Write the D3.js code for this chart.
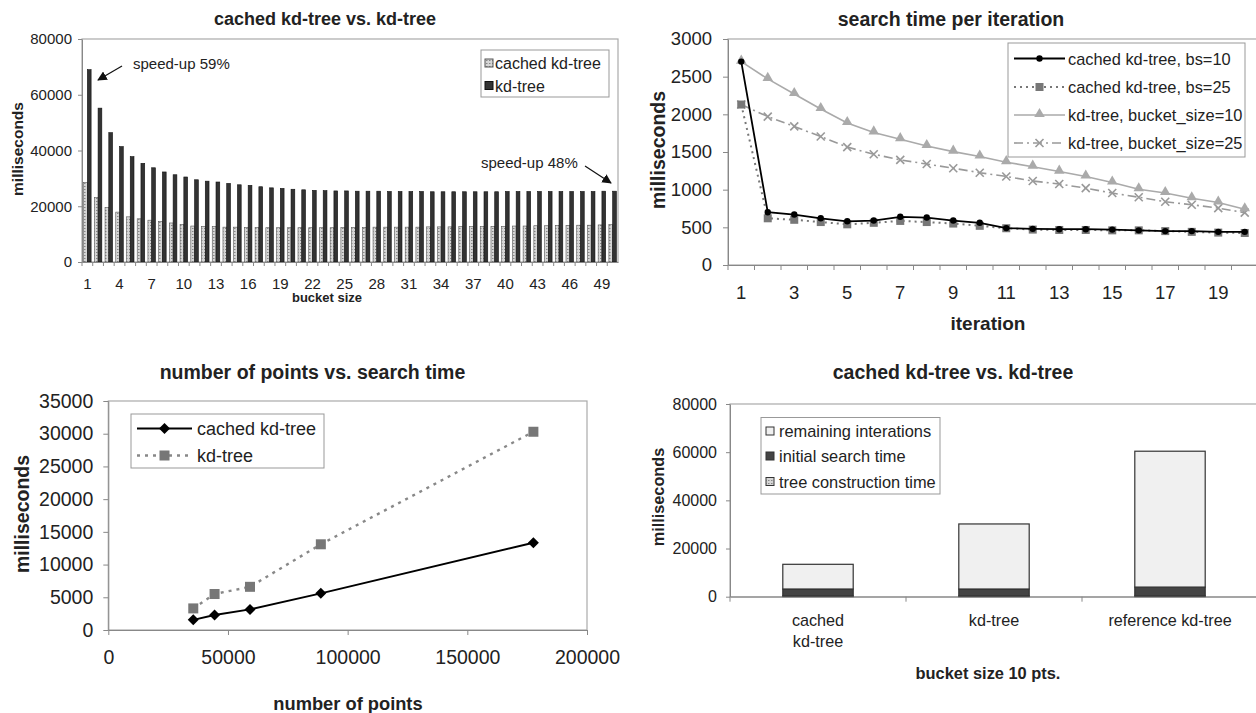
<!DOCTYPE html>
<html>
<head>
<meta charset="utf-8">
<script src="https://cdn.jsdelivr.net/npm/d3@7"></script>
<style>
  body { margin: 0; background: #fff; }
  svg text { font-family: "Liberation Sans", Arial, sans-serif; fill: #222; }
  .axis path, .axis line { stroke: #888; }
  .bold { font-weight: bold; }
</style>
</head>
<body>
<svg id="chart" width="1256" height="713"></svg>
<script>
// ---- data: cached kd-tree vs kd-tree, per bucket size
var bucketSizes = d3.range(1, 51);
var cachedTime = [28500, 23100, 19500, 17900, 16200, 15500, 15000, 14600, 14000, 13500,
                  12900, 12800, 12700, 12500, 12500, 12400, 12400, 12300, 12300, 12300,
                  12300, 12300, 12300, 12300, 12400, 12400, 12400, 12500, 12500, 12500,
                  12500, 12500, 12600, 12600, 12600, 12700, 12700, 12700, 12800, 12800,
                  12900, 12900, 13000, 13000, 13100, 13100, 13200, 13200, 13300, 13400];
var kdTime = [69000, 55200, 46400, 41400, 37800, 35400, 33800, 32300, 31300, 30500,
              29500, 29000, 28700, 28200, 27700, 27500, 27000, 26600, 26400, 26100,
              25900, 25700, 25600, 25500, 25500, 25400, 25400, 25400, 25300, 25300,
              25300, 25300, 25200, 25200, 25200, 25200, 25200, 25200, 25200, 25300,
              25300, 25300, 25300, 25300, 25300, 25300, 25300, 25300, 25400, 25400];

// ---- data: search time per iteration
var iterations = d3.range(1, 21);
var cachedBs10 = [2700, 700, 670, 620, 580, 590, 640, 630, 590, 560, 490, 480, 475, 475, 470, 460, 450, 450, 440, 440];
var cachedBs25 = [2130, 620, 600, 570, 540, 560, 585, 570, 550, 520, 488, 470, 465, 465, 460, 460, 450, 440, 430, 425];
var kdBs10 = [2700, 2470, 2270, 2070, 1885, 1760, 1670, 1580, 1505, 1440, 1365, 1305, 1240, 1175, 1095, 1005, 955, 885, 830, 740];
var kdBs25 = [2130, 1970, 1840, 1705, 1565, 1470, 1395, 1340, 1285, 1225, 1175, 1115, 1075, 1020, 955, 900, 840, 800, 755, 695];

// ---- data: number of points vs search time
var numPoints = [35500, 44400, 59200, 88800, 177600];
var cachedSearch = [1550, 2300, 3150, 5600, 13350];
var kdSearch = [3300, 5500, 6600, 13100, 30300];

// ---- data: stacked totals, bucket size 10
var treeNames = ["cached kd-tree", "kd-tree", "reference kd-tree"];
var treeConstruction = [300, 300, 300];
var initialSearch = [2900, 2900, 3700];
var remainingIterations = [10250, 27000, 56400];

var svg = d3.select("#chart");
var defs = svg.append("defs");
var plain = d3.format("d");

var pat = defs.append("pattern").attr("id", "dots")
  .attr("width", 3).attr("height", 3).attr("patternUnits", "userSpaceOnUse");
pat.append("rect").attr("width", 3).attr("height", 3).attr("fill", "#d6d6d6");
pat.append("rect").attr("width", 1.5).attr("height", 1).attr("fill", "#888");

defs.append("marker").attr("id", "arrow").attr("viewBox", "0 0 10 10")
  .attr("refX", 9).attr("refY", 5).attr("markerWidth", 8).attr("markerHeight", 8)
  .attr("orient", "auto")
  .append("path").attr("d", "M0,0L10,5L0,10z").attr("fill", "#111");

function title(x, y, txt, size, rotate) {
  var t = svg.append("text").attr("class", "bold").attr("text-anchor", "middle")
    .attr("dominant-baseline", "central").style("font-size", size + "px").text(txt);
  if (rotate) t.attr("transform", "translate(" + x + "," + y + ") rotate(-90)");
  else t.attr("x", x).attr("y", y);
}

function frame(g, b) {
  g.append("rect").attr("x", b.left).attr("y", b.top)
    .attr("width", b.right - b.left).attr("height", b.bottom - b.top)
    .attr("fill", "none").attr("stroke", "#aaa").attr("stroke-width", 1.2);
}

function marker(g, type, x, y) {
  if (type === "circle") {
    g.append("path").attr("d", d3.symbol(d3.symbolCircle, 32)())
      .attr("transform", "translate(" + x + "," + y + ")").attr("fill", "#000");
  } else if (type === "diamond") {
    g.append("path").attr("d", "M0,-5.5L5.5,0L0,5.5L-5.5,0Z")
      .attr("transform", "translate(" + x + "," + y + ")").attr("fill", "#000");
  } else if (type === "square") {
    g.append("rect").attr("x", x - 4).attr("y", y - 4).attr("width", 8).attr("height", 8).attr("fill", "#777");
  } else if (type === "bigsquare") {
    g.append("rect").attr("x", x - 5).attr("y", y - 5).attr("width", 10).attr("height", 10).attr("fill", "#777");
  } else if (type === "triangle") {
    g.append("path").attr("d", d3.symbol(d3.symbolTriangle, 48)())
      .attr("transform", "translate(" + x + "," + (y - 1) + ")").attr("fill", "#aaa");
  } else if (type === "x") {
    g.append("path").attr("d", "M-4,-4L4,4M-4,4L4,-4")
      .attr("transform", "translate(" + x + "," + y + ")")
      .attr("stroke", "#999").attr("stroke-width", 1.6).attr("fill", "none");
  }
}

// =============== top left: bars per bucket size
var tl = { left: 82, right: 618, top: 39, bottom: 262 };
var xTL = d3.scaleBand().domain(bucketSizes).range([tl.left, tl.right]).paddingInner(0.3).paddingOuter(0.15);
var xTLsub = d3.scaleBand().domain(["cached", "kd"]).range([0, xTL.bandwidth()]);
var yTL = d3.scaleLinear().domain([0, 80000]).range([tl.bottom, tl.top]);
var gTL = svg.append("g");
frame(gTL, tl);

gTL.selectAll(".cachedBar").data(bucketSizes).enter().append("rect")
  .attr("x", function(d) { return xTL(d) + xTLsub("cached"); })
  .attr("y", function(d, i) { return yTL(cachedTime[i]); })
  .attr("width", xTLsub.bandwidth())
  .attr("height", function(d, i) { return yTL(0) - yTL(cachedTime[i]); })
  .attr("fill", "url(#dots)").attr("stroke", "#555").attr("stroke-width", 0.6);

gTL.selectAll(".kdBar").data(bucketSizes).enter().append("rect")
  .attr("x", function(d) { return xTL(d) + xTLsub("kd"); })
  .attr("y", function(d, i) { return yTL(kdTime[i]); })
  .attr("width", xTLsub.bandwidth())
  .attr("height", function(d, i) { return yTL(0) - yTL(kdTime[i]); })
  .attr("fill", "#333").attr("stroke", "#111").attr("stroke-width", 0.6);

gTL.append("g").attr("class", "axis").attr("transform", "translate(" + tl.left + ",0)")
  .call(d3.axisLeft(yTL).tickValues([0, 20000, 40000, 60000, 80000]).tickFormat(plain)
    .tickSize(4).tickPadding(6).tickSizeOuter(0))
  .style("font-size", "15px");

gTL.append("g").attr("class", "axis").attr("transform", "translate(0," + tl.bottom + ")")
  .call(d3.axisBottom(xTL).tickValues(bucketSizes.filter(function(d, i) { return i % 3 === 0; }))
    .tickSize(0).tickPadding(16).tickSizeOuter(0))
  .style("font-size", "15px");

var offTL = (xTL.step() - xTL.bandwidth()) / 2;
gTL.selectAll(".btick").data(bucketSizes).enter().append("line")
  .attr("x1", function(d) { return xTL(d) - offTL; }).attr("x2", function(d) { return xTL(d) - offTL; })
  .attr("y1", tl.bottom).attr("y2", tl.bottom + 4).attr("stroke", "#888");

// legend
gTL.append("rect").attr("x", 481).attr("y", 50).attr("width", 128).attr("height", 47)
  .attr("fill", "#fff").attr("stroke", "#999");
[["cached kd-tree", "url(#dots)", "#555", 63.5], ["kd-tree", "#333", "#111", 86]].forEach(function(it) {
  gTL.append("rect").attr("x", 485).attr("y", it[3] - 4.5).attr("width", 8).attr("height", 8)
    .attr("fill", it[1]).attr("stroke", it[2]);
  gTL.append("text").attr("x", 495).attr("y", it[3]).attr("dominant-baseline", "central")
    .style("font-size", "16px").text(it[0]);
});

// annotations
gTL.append("text").attr("x", 133).attr("y", 63.5).attr("dominant-baseline", "central")
  .style("font-size", "15px").text("speed-up 59%");
gTL.append("line").attr("x1", 122).attr("y1", 66).attr("x2", 98).attr("y2", 80)
  .attr("stroke", "#111").attr("stroke-width", 1.2).attr("marker-end", "url(#arrow)");
gTL.append("text").attr("x", 481).attr("y", 162.5).attr("dominant-baseline", "central")
  .style("font-size", "15px").text("speed-up 48%");
gTL.append("line").attr("x1", 585).attr("y1", 166).attr("x2", 611).attr("y2", 183)
  .attr("stroke", "#111").attr("stroke-width", 1.2).attr("marker-end", "url(#arrow)");

title(325, 18.5, "cached kd-tree vs. kd-tree", 18);
title(17, 149, "milliseconds", 15.5, true);
title(327, 297, "bucket size", 13);

// =============== top right: search time per iteration
var tr = { left: 728, right: 1258, top: 39, bottom: 265 };
var xTR = d3.scaleBand().domain(iterations).range([tr.left, tr.right]);
var yTR = d3.scaleLinear().domain([0, 3000]).range([tr.bottom, tr.top]);
var gTR = svg.append("g");
frame(gTR, tr);

gTR.append("g").attr("class", "axis").attr("transform", "translate(" + tr.left + ",0)")
  .call(d3.axisLeft(yTR).tickValues(d3.range(0, 3001, 500)).tickFormat(plain)
    .tickSize(5).tickPadding(11).tickSizeOuter(0))
  .style("font-size", "18.5px");
gTR.append("g").attr("class", "axis").attr("transform", "translate(0," + tr.bottom + ")")
  .call(d3.axisBottom(xTR).tickValues(iterations.filter(function(d) { return d % 2 === 1; }))
    .tickSize(0).tickPadding(21).tickSizeOuter(0))
  .style("font-size", "18.5px");
gTR.selectAll(".btick").data(iterations).enter().append("line")
  .attr("x1", function(d) { return xTR(d); }).attr("x2", function(d) { return xTR(d); })
  .attr("y1", tr.bottom).attr("y2", tr.bottom + 5).attr("stroke", "#888");

var trSeries = [
  { name: "cached kd-tree, bs=10", values: cachedBs10, color: "#000", width: 1.8, dash: null, mark: "circle" },
  { name: "cached kd-tree, bs=25", values: cachedBs25, color: "#777", width: 2, dash: "2,4", mark: "square" },
  { name: "kd-tree, bucket_size=10", values: kdBs10, color: "#aaa", width: 1.6, dash: null, mark: "triangle" },
  { name: "kd-tree, bucket_size=25", values: kdBs25, color: "#999", width: 1.6, dash: "9,4,2,4", mark: "x" }
];
var lineTR = d3.line()
  .x(function(d, i) { return xTR(iterations[i]) + xTR.bandwidth() / 2; })
  .y(function(d) { return yTR(d); });

trSeries.slice().reverse().forEach(function(s) {
  gTR.append("path").attr("d", lineTR(s.values)).attr("fill", "none")
    .attr("stroke", s.color).attr("stroke-width", s.width).attr("stroke-dasharray", s.dash);
  s.values.forEach(function(v, i) {
    marker(gTR, s.mark, xTR(iterations[i]) + xTR.bandwidth() / 2, yTR(v));
  });
});

gTR.append("rect").attr("x", 1008).attr("y", 43).attr("width", 237).attr("height", 114)
  .attr("fill", "#fff").attr("stroke", "#999");
var legY = [58.5, 87, 115, 143];
trSeries.forEach(function(s, i) {
  gTR.append("line").attr("x1", 1014).attr("x2", 1065).attr("y1", legY[i]).attr("y2", legY[i])
    .attr("stroke", s.color).attr("stroke-width", s.width).attr("stroke-dasharray", s.dash);
  marker(gTR, s.mark, 1039.5, legY[i]);
  gTR.append("text").attr("x", 1068).attr("y", legY[i]).attr("dominant-baseline", "central")
    .style("font-size", "16.4px").text(s.name);
});

title(951, 18.5, "search time per iteration", 19.5);
title(658, 150, "milliseconds", 19.5, true);
title(988, 323, "iteration", 19);

// =============== bottom left: number of points vs. search time
var bl = { left: 108.3, right: 587, top: 401, bottom: 630 };
var xBL = d3.scaleLinear().domain([0, 200000]).range([bl.left, bl.right]);
var yBL = d3.scaleLinear().domain([0, 35000]).range([bl.bottom, bl.top]);
var gBL = svg.append("g");
frame(gBL, bl);

gBL.append("g").attr("class", "axis").attr("transform", "translate(" + bl.left + ",0)")
  .call(d3.axisLeft(yBL).tickValues(d3.range(0, 35001, 5000)).tickFormat(plain)
    .tickSize(5).tickPadding(10).tickSizeOuter(0))
  .style("font-size", "19.5px");
gBL.append("g").attr("class", "axis").attr("transform", "translate(0," + bl.bottom + ")")
  .call(d3.axisBottom(xBL).tickValues(d3.range(0, 200001, 50000)).tickFormat(plain)
    .tickSize(5).tickPadding(15).tickSizeOuter(0))
  .style("font-size", "19.5px");

var lineBL = d3.line()
  .x(function(d, i) { return xBL(numPoints[i]); })
  .y(function(d) { return yBL(d); });
gBL.append("path").attr("d", lineBL(kdSearch)).attr("fill", "none")
  .attr("stroke", "#888").attr("stroke-width", 2.4).attr("stroke-dasharray", "3,5");
kdSearch.forEach(function(v, i) { marker(gBL, "bigsquare", xBL(numPoints[i]), yBL(v)); });
gBL.append("path").attr("d", lineBL(cachedSearch)).attr("fill", "none")
  .attr("stroke", "#000").attr("stroke-width", 2);
cachedSearch.forEach(function(v, i) { marker(gBL, "diamond", xBL(numPoints[i]), yBL(v)); });

gBL.append("rect").attr("x", 131).attr("y", 414).attr("width", 193).attr("height", 54)
  .attr("fill", "#fff").attr("stroke", "#999");
gBL.append("line").attr("x1", 137).attr("x2", 192).attr("y1", 428.5).attr("y2", 428.5)
  .attr("stroke", "#000").attr("stroke-width", 2);
marker(gBL, "diamond", 164.5, 428.5);
gBL.append("line").attr("x1", 137).attr("x2", 192).attr("y1", 455.5).attr("y2", 455.5)
  .attr("stroke", "#888").attr("stroke-width", 2.4).attr("stroke-dasharray", "3,5");
marker(gBL, "bigsquare", 164.5, 455.5);
gBL.append("text").attr("x", 197).attr("y", 428.5).attr("dominant-baseline", "central")
  .style("font-size", "18px").text("cached kd-tree");
gBL.append("text").attr("x", 197).attr("y", 455.5).attr("dominant-baseline", "central")
  .style("font-size", "18px").text("kd-tree");

title(312.5, 372, "number of points vs. search time", 19.5);
title(22, 514, "milliseconds", 19.5, true);
title(348, 703, "number of points", 18.3);

// =============== bottom right: stacked totals
var br = { left: 730, right: 1258, top: 404, bottom: 596.7 };
var xBR = d3.scaleBand().domain(treeNames).range([br.left, br.right]).paddingInner(0.6).paddingOuter(0.3);
var yBR = d3.scaleLinear().domain([0, 80000]).range([br.bottom, br.top]);
var gBR = svg.append("g");
frame(gBR, br);

var brRows = treeNames.map(function(n, i) {
  return { name: n, construction: treeConstruction[i], initial: initialSearch[i], remaining: remainingIterations[i] };
});
var stackKeys = ["construction", "initial", "remaining"];
var stackFill = { construction: "url(#dots)", initial: "#444", remaining: "#f0f0f0" };
var stacked = d3.stack().keys(stackKeys)(brRows);

stacked.forEach(function(layer) {
  gBR.selectAll(".seg-" + layer.key).data(layer).enter().append("rect")
    .attr("x", function(d) { return xBR(d.data.name); })
    .attr("y", function(d) { return yBR(d[1]); })
    .attr("width", xBR.bandwidth())
    .attr("height", function(d) { return yBR(d[0]) - yBR(d[1]); })
    .attr("fill", stackFill[layer.key]).attr("stroke", "#333").attr("stroke-width", 1.2);
});

gBR.append("g").attr("class", "axis").attr("transform", "translate(" + br.left + ",0)")
  .call(d3.axisLeft(yBR).tickValues([0, 20000, 40000, 60000, 80000]).tickFormat(plain)
    .tickSize(4).tickPadding(9).tickSizeOuter(0))
  .style("font-size", "16px");
gBR.append("g").attr("class", "axis").attr("transform", "translate(0," + br.bottom + ")")
  .call(d3.axisBottom(xBR).tickSize(0).tickPadding(18).tickSizeOuter(0))
  .style("font-size", "16.2px")
  .selectAll(".tick text").each(function(d) {
    if (d === "cached kd-tree") {
      var t = d3.select(this).text(null);
      t.append("tspan").attr("x", 0).text("cached");
      t.append("tspan").attr("x", 0).attr("dy", "1.3em").text("kd-tree");
    }
  });
var offBR = (xBR.step() - xBR.bandwidth()) / 2;
gBR.selectAll(".btick").data(treeNames).enter().append("line")
  .attr("x1", function(d) { return xBR(d) - offBR; }).attr("x2", function(d) { return xBR(d) - offBR; })
  .attr("y1", br.bottom).attr("y2", br.bottom + 5).attr("stroke", "#888");

gBR.append("rect").attr("x", 761).attr("y", 417.5).attr("width", 179).attr("height", 76.5)
  .attr("fill", "#fff").attr("stroke", "#999");
[["remaining interations", "remaining", 431], ["initial search time", "initial", 456], ["tree construction time", "construction", 481.5]]
  .forEach(function(it) {
    gBR.append("rect").attr("x", 766).attr("y", it[2] - 4).attr("width", 8).attr("height", 8)
      .attr("fill", stackFill[it[1]]).attr("stroke", "#333");
    gBR.append("text").attr("x", 779).attr("y", it[2]).attr("dominant-baseline", "central")
      .style("font-size", "16.4px").text(it[0]);
  });

title(953, 372, "cached kd-tree vs. kd-tree", 19.5);
title(658, 497, "milliseconds", 16.3, true);
title(988, 673, "bucket size 10 pts.", 16.4);
</script>
</body>
</html>
